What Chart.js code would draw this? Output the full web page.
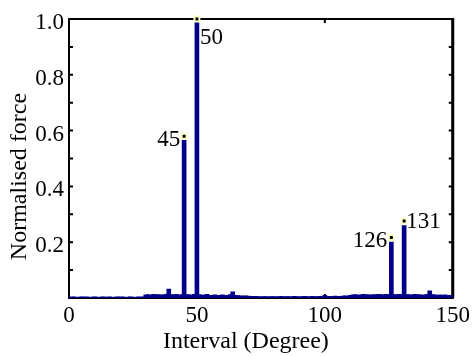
<!DOCTYPE html>
<html lang="en">
<head>
    <meta charset="UTF-8">
    <title>Normalised force vs interval</title>
    <script src="https://cdn.jsdelivr.net/npm/chart.js"></script>
    <style>
        body { margin: 0; background: #fff; }
        .chart-container { width: 474px; height: 356px; }
    </style>
</head>
<body>
    <div class="chart-container">
        <canvas id="forceChart"></canvas>
    </div>

    <script>
        // normalised force per degree, 0..150
        const force = [
            0.004, 0.003, 0.004, 0.002, 0.003, 0.004, 0.003, 0.004, 0.002, 0.003,
            0.004, 0.003, 0.002, 0.004, 0.003, 0.003, 0.004, 0.002, 0.003, 0.004,
            0.003, 0.004, 0.002, 0.003, 0.004, 0.003, 0.002, 0.004, 0.003, 0.004,
            0.011, 0.012, 0.010, 0.013, 0.011, 0.012, 0.010, 0.012, 0.013, 0.032,
            0.012, 0.011, 0.013, 0.010, 0.012, 0.565, 0.011, 0.012, 0.010, 0.013,
            1.000, 0.012, 0.010, 0.011, 0.013, 0.009, 0.010, 0.011, 0.009, 0.010,
            0.011, 0.009, 0.010, 0.012, 0.022, 0.010, 0.009, 0.008, 0.007, 0.008,
            0.007, 0.006, 0.005, 0.006, 0.005, 0.004, 0.005, 0.005, 0.004, 0.005,
            0.005, 0.004, 0.005, 0.006, 0.004, 0.005, 0.005, 0.004, 0.006, 0.005,
            0.004, 0.005, 0.006, 0.005, 0.004, 0.006, 0.005, 0.005, 0.006, 0.005,
            0.010, 0.005, 0.006, 0.005, 0.007, 0.006, 0.005, 0.007, 0.008, 0.007,
            0.010, 0.011, 0.012, 0.010, 0.011, 0.013, 0.011, 0.012, 0.010, 0.012,
            0.011, 0.013, 0.012, 0.011, 0.013, 0.012, 0.200, 0.012, 0.011, 0.013,
            0.012, 0.260, 0.011, 0.012, 0.010, 0.013, 0.011, 0.012, 0.010, 0.011,
            0.013, 0.026, 0.012, 0.011, 0.010, 0.011, 0.010, 0.011, 0.009, 0.010,
            0.010
        ];
        const degrees = force.map((v, i) => i);

        // data tips
        const tipX = [45, 50, 126, 131];
        const tipY = [0.58, 1.0, 0.217, 0.276];
        const tipLabels = ['45', '50', '126', '131'];

        // axis ticks
        const xTickValues = [0, 50, 100, 150];
        const xTickLabels = ['0', '50', '100', '150'];
        const yTickValues = [0, 0.1, 0.2, 0.3, 0.4, 0.5, 0.6, 0.7, 0.8, 0.9, 1.0];
        const yTickLabels = ['', '', '0.2', '', '0.4', '', '0.6', '', '0.8', '', '1.0'];

        const FONT = 'Liberation Serif';
        const tipAlign = ['right', 'left', 'right', 'left'];
        const tipOffset = [[-4, 4], [3, 19], [-4, 3], [2, 1]];

        // box frame + inward ticks + data tip labels
        const framePlugin = {
            id: 'frame',
            beforeDatasetsDraw(chart) {
                const { ctx, chartArea: a, scales } = chart;
                ctx.save();
                ctx.strokeStyle = '#000';
                ctx.lineWidth = 2;
                ctx.strokeRect(a.left, a.top, a.right - a.left, a.bottom - a.top);
                ctx.beginPath();
                yTickValues.forEach(v => {
                    const y = scales.y.getPixelForValue(v);
                    ctx.moveTo(a.left, y); ctx.lineTo(a.left + 4, y);
                    ctx.moveTo(a.right, y); ctx.lineTo(a.right - 4, y);
                });
                xTickValues.forEach(v => {
                    const x = scales.x.getPixelForValue(v);
                    ctx.moveTo(x, a.bottom); ctx.lineTo(x, a.bottom - 4);
                    ctx.moveTo(x, a.top); ctx.lineTo(x, a.top + 4);
                });
                ctx.stroke();
                ctx.lineWidth = 3;
                ctx.beginPath();
                ctx.moveTo(a.right, a.top - 1);
                ctx.lineTo(a.right, a.bottom);
                ctx.stroke();
                ctx.restore();
            },
            afterDatasetsDraw(chart) {
                const { ctx, scales } = chart;
                ctx.save();
                ctx.fillStyle = '#000';
                ctx.font = '23px "' + FONT + '"';
                ctx.textBaseline = 'middle';
                tipX.forEach((x, i) => {
                    const px = scales.x.getPixelForValue(x);
                    const py = scales.y.getPixelForValue(tipY[i]);
                    ctx.textAlign = tipAlign[i];
                    ctx.fillText(tipLabels[i], px + tipOffset[i][0], py + tipOffset[i][1]);
                });
                ctx.restore();
            }
        };

        const ctx = document.getElementById('forceChart').getContext('2d');
        new Chart(ctx, {
            type: 'bar',
            data: {
                datasets: [
                    {
                        type: 'scatter',
                        data: tipX.map((x, i) => ({ x: x, y: tipY[i] })),
                        pointStyle: 'rect',
                        pointRadius: 3.5,
                        backgroundColor: '#000',
                        borderColor: '#ffffcc',
                        borderWidth: 2,
                        clip: false,
                        order: 0
                    },
                    {
                        data: degrees.map((d, i) => ({ x: d, y: force[i] })),
                        backgroundColor: '#00008b',
                        barThickness: 4,
                        order: 1
                    }
                ]
            },
            options: {
                responsive: true,
                maintainAspectRatio: false,
                animation: false,
                layout: { padding: { top: 19, right: 20, left: 0, bottom: 0 } },
                scales: {
                    x: {
                        type: 'linear',
                        min: 0,
                        max: 150,
                        offset: false,
                        grid: { display: false, drawTicks: false, offset: false },
                        border: { display: false },
                        afterBuildTicks: s => { s.ticks = xTickValues.map(v => ({ value: v })); },
                        afterFit: s => { s.height = 58; },
                        ticks: {
                            padding: 4,
                            color: '#000',
                            font: { family: FONT, size: 23 },
                            maxRotation: 0,
                            callback: (v, i) => xTickLabels[i]
                        },
                        title: {
                            display: true,
                            text: 'Interval (Degree)     ',
                            color: '#000',
                            font: { family: FONT, size: 24 },
                            padding: { top: 0, bottom: 0 }
                        }
                    },
                    y: {
                        min: 0,
                        max: 1.0,
                        grid: { display: false, drawTicks: false },
                        border: { display: false },
                        afterBuildTicks: s => { s.ticks = yTickValues.map(v => ({ value: v })); },
                        afterFit: s => { s.width = 69; },
                        ticks: {
                            padding: 5,
                            labelOffset: 4,
                            color: '#000',
                            font: { family: FONT, size: 23 },
                            autoSkip: false,
                            callback: (v, i) => yTickLabels[i]
                        },
                        title: {
                            display: true,
                            text: 'Normalised force      ',
                            color: '#000',
                            font: { family: FONT, size: 24 },
                            padding: { top: 5, bottom: 0 }
                        }
                    }
                },
                plugins: {
                    legend: { display: false },
                    tooltip: { enabled: false }
                }
            },
            plugins: [framePlugin]
        });
    </script>
</body>
</html>
